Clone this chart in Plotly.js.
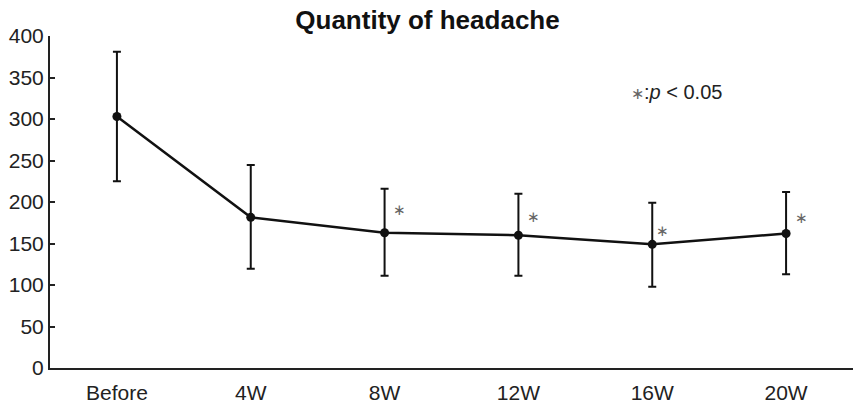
<!DOCTYPE html>
<html>
<head>
<meta charset="utf-8">
<script src="https://cdn.plot.ly/plotly-3.0.1.min.js"></script>
<style>html,body{margin:0;padding:0;background:#fff;}#chart{width:855px;height:408px;}</style>
</head>
<body>
<div id="chart"></div>
<script>
const categories = ["Before", "4W", "8W", "12W", "16W", "20W"];
const means = [303, 181.5, 163, 160, 149, 162];
const upperErr = [78, 63, 53, 50, 50, 50];
const lowerErr = [78, 62, 52, 49, 51, 49];
const starFlags = [false, false, true, true, true, true];
const starY = [null, null, 190, 182, 165, 181];
const starShift = [0, 0, 15, 15, 10, 15];

const trace = {
  x: categories,
  y: means,
  type: "scatter",
  mode: "lines+markers",
  line: {color: "#111", width: 2.5},
  marker: {color: "#111", size: 9},
  error_y: {type: "data", symmetric: false, array: upperErr, arrayminus: lowerErr,
            color: "#111", thickness: 2, width: 4},
  hoverinfo: "none"
};

const annotations = [];
categories.forEach((c, i) => {
  if (starFlags[i]) {
    annotations.push({x: c, y: starY[i], xref: "x", yref: "y", text: "∗", showarrow: false,
      xshift: starShift[i], font: {family: "DejaVu Sans, sans-serif", size: 15, color: "#666"}});
  }
});
annotations.push({xref: "paper", yref: "paper", x: (629 - 50) / 803, y: (368 - 92) / 332,
  xanchor: "left", yanchor: "middle", showarrow: false,
  text: "<span style='color:#666;font-size:16px'>∗</span>:<i>p</i> &lt; 0.05",
  font: {family: "Liberation Sans, Arial, sans-serif", size: 20, color: "#222"}});

const layout = {
  width: 855, height: 408,
  margin: {l: 50, r: 2, t: 36, b: 40},
  paper_bgcolor: "#fff", plot_bgcolor: "#fff",
  showlegend: false,
  font: {family: "Liberation Sans, Arial, sans-serif", color: "#222"},
  title: {text: "<b>Quantity of headache</b>", x: 0.5, xanchor: "center", y: 1 - 20 / 408, yanchor: "middle",
          yref: "container", font: {size: 26, color: "#111"}},
  xaxis: {type: "category", range: [-0.5, 5.5], showline: true, linecolor: "#222", linewidth: 2,
          ticks: "", showgrid: false, zeroline: false, tickfont: {size: 21, color: "#222"},
          ticklabelstandoff: 5, fixedrange: true},
  yaxis: {range: [0, 400], dtick: 50, tick0: 0, showline: true, linecolor: "#222", linewidth: 2,
          ticks: "inside", ticklen: 5, tickwidth: 2, tickcolor: "#222", showgrid: false, zeroline: false,
          tickfont: {size: 21, color: "#222"}, fixedrange: true},
  annotations: annotations
};

Plotly.newPlot("chart", [trace], layout, {displayModeBar: false, staticPlot: true});
</script>
</body>
</html>
